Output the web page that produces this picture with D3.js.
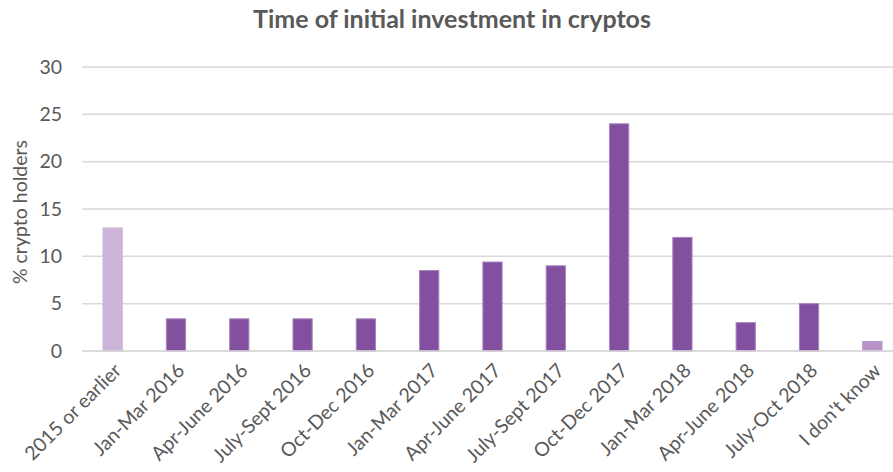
<!DOCTYPE html>
<html>
<head>
<meta charset="utf-8">
<script src="https://cdn.jsdelivr.net/npm/d3@7"></script>
<style>
  html, body { margin: 0; padding: 0; background: #fff; }
  svg { display: block; }
  text { font-family: Lato, "Open Sans", sans-serif; fill: #595959; }
</style>
</head>
<body>
<svg id="chart" width="893" height="472"></svg>
<script>
const categories = ["2015 or earlier", "Jan-Mar 2016", "Apr-June 2016", "July-Sept 2016", "Oct-Dec 2016",
  "Jan-Mar 2017", "Apr-June 2017", "July-Sept 2017", "Oct-Dec 2017", "Jan-Mar 2018",
  "Apr-June 2018", "July-Oct 2018", "I don't know"];
const values = [13, 3.4, 3.4, 3.4, 3.4, 8.5, 9.4, 9, 24, 12, 3, 5, 1];
const yTicks = [0, 5, 10, 15, 20, 25, 30];
const title = "Time of initial investment in cryptos";
const yLabel = "% crypto holders";

const svg = d3.select("#chart");
const W = 893, H = 472;

const x = d3.scaleBand().domain(categories).range([81, 904]).paddingInner(0.68).paddingOuter(0.34);
const y = d3.scaleLinear().domain([0, 30]).range([351, 67]);

function barColor(d, i) {
  if (i === 0) return "#CDB5DA";
  if (i === categories.length - 1) return "#B793CA";
  return "#82509F";
}
function barStroke(d, i) {
  if (i === 0) return "#CDB5DA";
  if (i === categories.length - 1) return "#B793CA";
  return "#A886BE";
}

// gridlines
svg.append("g").selectAll("line").data(yTicks).join("line")
  .attr("x1", 82).attr("x2", W)
  .attr("y1", d => y(d)).attr("y2", d => y(d))
  .attr("stroke", "#D9D9D9").attr("stroke-width", 1.5);

// y tick labels
svg.append("g").selectAll("text").data(yTicks).join("text")
  .attr("x", 62).attr("y", d => y(d)).attr("dy", "0.35em")
  .attr("text-anchor", "end").attr("font-size", 19.5)
  .text(d => d);

// bars
svg.append("g").selectAll("rect").data(values).join("rect")
  .attr("x", (d, i) => x(categories[i]) + 0.5)
  .attr("width", x.bandwidth() - 1)
  .attr("y", d => y(d))
  .attr("height", d => y(0) - y(d))
  .attr("fill", barColor)
  .attr("stroke", barStroke).attr("stroke-width", 1);

// baseline
svg.append("line").attr("x1", 82).attr("x2", W).attr("y1", y(0)).attr("y2", y(0))
  .attr("stroke", "#D9D9D9").attr("stroke-width", 1.5);

// x labels
svg.append("g").selectAll("text").data(categories).join("text")
  .attr("transform", d => `translate(${x(d) + x.bandwidth() / 2 + 5},${y(0) + 16}) rotate(-45)`)
  .attr("text-anchor", "end").attr("dy", "0.35em").attr("font-size", 19.5)
  .text(d => d);

// y axis title
svg.append("text")
  .attr("transform", `translate(27,${(y(0) + y(30)) / 2 + 3}) rotate(-90)`)
  .attr("text-anchor", "middle").attr("font-size", 19.5)
  .text(yLabel);

// title
svg.append("text")
  .attr("x", 452).attr("y", 28)
  .attr("text-anchor", "middle").attr("font-size", 25).attr("font-weight", "bold")
  .text(title);
</script>
</body>
</html>
